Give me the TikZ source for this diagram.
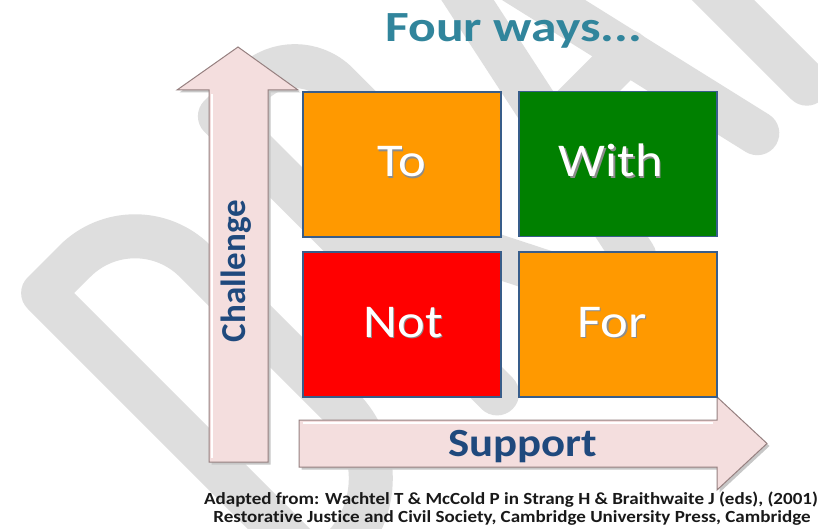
\documentclass[tikz,border=0pt]{standalone}
\usepackage{fontspec}
\setmainfont{Carlito}[Ligatures=NoCommon]
\definecolor{wmgray}{RGB}{222,222,222}
\definecolor{titleteal}{RGB}{49,133,156}
\definecolor{navy}{RGB}{31,73,125}
\definecolor{boxorange}{RGB}{255,153,0}
\definecolor{boxgreen}{RGB}{0,128,0}
\definecolor{boxred}{RGB}{255,0,0}
\definecolor{boxedge}{RGB}{56,93,138}
\definecolor{arrowfill}{RGB}{244,222,222}
\definecolor{arrowedge}{RGB}{150,128,128}
\definecolor{credit}{RGB}{25,25,25}
\newcommand{\shadowed}[1]{\makebox[0pt][l]{\hspace{1.2pt}\raisebox{-1.2pt}{\textcolor{black!45}{#1}}}#1}
\begin{document}
\begin{tikzpicture}[x=1pt,y=-1pt,
  quad/.style={draw=boxedge, line width=1.2pt, minimum width=198pt, minimum height=145pt, inner sep=0pt},
  quadlabel/.style={text=white, font=\fontsize{47}{50}\selectfont, inner sep=0pt, anchor=base, xscale=1.12},
  blockarrow/.style={fill=arrowfill, draw=arrowedge, line width=1pt, line join=miter},
  arrowshadow/.style={fill=black!22, draw=none},
  axislabel/.style={text=navy, font=\bfseries\fontsize{40}{44}\selectfont, inner sep=0pt},
  creditline/.style={text=credit, font=\bfseries\fontsize{17}{18}\selectfont, inner sep=0pt, anchor=base, xscale=1.12},
  wmstroke/.style={draw=wmgray, line width=44pt, line cap=round, line join=round}
]
\useasboundingbox (0,0) rectangle (818,529);
\fill[white] (0,0) rectangle (818,529);

% watermark
\begin{scope}
\clip (0,0) rectangle (818,529);
\coordinate (wmO) at (12,293);
\begin{scope}[shift={(wmO)}, x={(0.70711pt,0.70711pt)}, y={(-0.70711pt,0.70711pt)}]
  % D
  \draw[wmstroke] (22,-22) -- (67,-22) arc[start angle=90,end angle=0,radius=85]
     -- (152,-314) arc[start angle=0,end angle=-90,radius=100] -- (22,-414) -- cycle;
  % R
  \draw[wmstroke] (272,-414) -- (272,-22) -- (318,-22) arc[start angle=90,end angle=0,radius=60]
     -- (378,-170) arc[start angle=0,end angle=-90,radius=60] -- (272,-230);
  \draw[wmstroke] (325,-230) -- (418,-414);
  % A
  \draw[wmstroke] (466,-414) -- (549,-22) -- (640,-414);
  \draw[wmstroke] (497,-265) -- (606,-265);
  % F
  \draw[wmstroke] (710,-414) -- (710,-22) -- (845,-22);
  \draw[wmstroke] (710,-225) -- (825,-225);
  % T
  \draw[wmstroke] (880,-22) -- (1080,-22);
  \draw[wmstroke] (980,-22) -- (980,-414);
\end{scope}
\end{scope}

% title
\node[text=titleteal, font=\bfseries\fontsize{43}{46}\selectfont, inner sep=0pt, anchor=base west, xscale=1.2] (title) at (385,42) {Four ways...};

% vertical arrow (Challenge)
\path[arrowshadow] (211.5,464.5) -- (211.5,92.5) -- (179.5,92.5) -- (240.5,49.5) -- (300.5,92.5) -- (270.5,92.5) -- (270.5,464.5) -- cycle;
\path[blockarrow] (209,462) -- (209,90) -- (177,90) -- (238,47) -- (298,90) -- (268,90) -- (268,462) -- cycle;
\draw[white, line width=1.5pt] (212,94) -- (212,458);
\node[axislabel, font=\bfseries\fontsize{35}{40}\selectfont, rotate=90] (challenge) at (236,271) {Challenge};

% horizontal arrow (Support)
\path[arrowshadow] (301.5,422.5) -- (719.5,422.5) -- (719.5,399.5) -- (769.5,446) -- (719.5,492.5) -- (719.5,469.5) -- (301.5,469.5) -- cycle;
\path[blockarrow] (299,420) -- (717,420) -- (717,397) -- (767,443.5) -- (717,490) -- (717,467) -- (299,467) -- cycle;
\draw[white, line width=1.5pt] (303,423) -- (713,423);
\node[axislabel, anchor=base, xscale=1.12] (support) at (522.5,456) {Support};

% quadrants
\node[quad, fill=boxorange] (to) at (402,164.5) {};
\node[quad, fill=boxgreen] (with) at (618,164) {};
\node[quad, fill=boxred] (not) at (402,324.5) {};
\node[quad, fill=boxorange] (for) at (618,324.5) {};

\node[quadlabel] (toL) at (402,177) {\shadowed{To}};
\node[quadlabel] (withL) at (611,177) {\shadowed{With}};
\node[quadlabel] (notL) at (403,337) {\shadowed{Not}};
\node[quadlabel] (forL) at (612,337) {\shadowed{For}};

% credits
\node[creditline] (cred1) at (511,504) {Adapted from: Wachtel T \& McCold P in Strang H \& Braithwaite J (eds), (2001)};
\node[creditline] (cred2) at (512,522) {Restorative Justice and Civil Society, Cambridge University Press, Cambridge};
\end{tikzpicture}
\end{document}
